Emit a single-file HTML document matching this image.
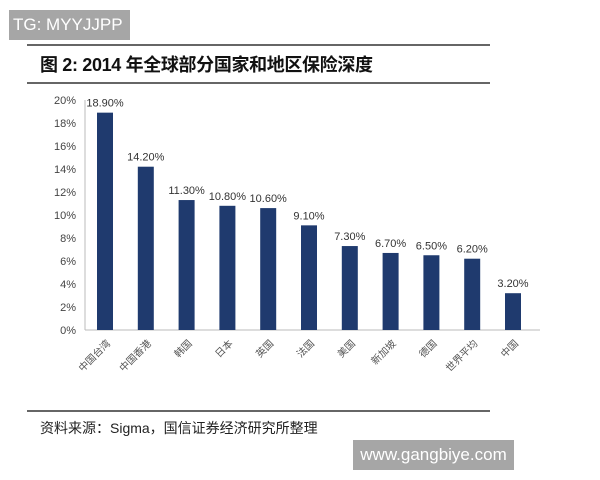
<!DOCTYPE html>
<html><head><meta charset="utf-8"><style>
body{margin:0;width:600px;height:480px;background:#fff;position:relative;overflow:hidden;font-family:"Liberation Sans","Noto Sans CJK SC",sans-serif}
.box{position:absolute;background:#a6a6a6;color:#fff}
</style></head><body>
<div class="box" style="left:9px;top:10px;width:121px;height:30px;font-size:17px;line-height:30px;padding-left:4px;box-sizing:border-box">TG: MYYJJPP</div>
<svg width="600" height="480" style="position:absolute;left:0;top:0" id="c">
<line x1="27" y1="45" x2="490" y2="45" stroke="#333" stroke-width="1.5"/>
<line x1="27" y1="83" x2="490" y2="83" stroke="#333" stroke-width="1.5"/>
<text x="40" y="71" font-size="18" font-weight="bold" fill="#111" textLength="333" font-family="Liberation Sans,Noto Sans CJK SC,sans-serif">图 2:  2014 年全球部分国家和地区保险深度</text>
<line x1="27" y1="411" x2="490" y2="411" stroke="#333" stroke-width="1.5"/>
<text x="40" y="433" font-size="14" fill="#222" font-family="Liberation Sans,Noto Sans CJK SC,sans-serif">资料来源：Sigma，国信证券经济研究所整理</text>
</svg>
<div class="box" style="left:353px;top:440px;width:161px;height:30px;font-size:17px;line-height:30px;text-align:center">www.gangbiye.com</div>
<script>
const categories=["中国台湾","中国香港","韩国","日本","英国","法国","美国","新加坡","德国","世界平均","中国"];
const values=[18.9,14.2,11.3,10.8,10.6,9.1,7.3,6.7,6.5,6.2,3.2];
const valueLabels=["18.90%","14.20%","11.30%","10.80%","10.60%","9.10%","7.30%","6.70%","6.50%","6.20%","3.20%"];
const ticks=[0,2,4,6,8,10,12,14,16,18,20];
const svg=document.getElementById('c');const NS="http://www.w3.org/2000/svg";
const y=v=>330-v*11.5;const x=i=>105+i*40.8;
function mk(t,a,txt){const e=document.createElementNS(NS,t);for(const k in a)e.setAttribute(k,a[k]);if(txt!==undefined)e.textContent=txt;svg.appendChild(e);return e;}
let ax=mk('line',{x1:85,y1:330,x2:540,y2:330,stroke:'#bbb'});


let ay=mk('line',{x1:85,y1:100,x2:85,y2:330,stroke:'#bbb'});


ticks.forEach(t=>{const e=mk('text',{x:76,y:y(t)+4,'font-size':11,fill:'#444','text-anchor':'end'},t+'%');

});
values.forEach((v,i)=>{
const r=mk('rect',{x:x(i)-8,y:y(v),width:16,height:330-y(v),fill:'#1f3a6e'});


const l=mk('text',{x:x(i),y:y(v)-6,'font-size':11,fill:'#333','text-anchor':'middle'},valueLabels[i]);


const c=mk('text',{x:x(i)+6,y:344,'font-size':10,fill:'#555','text-anchor':'end',transform:`rotate(-45 ${x(i)+6} 344)`,'font-family':'Noto Sans CJK SC,sans-serif'},categories[i]);


});
</script>
</body></html>
